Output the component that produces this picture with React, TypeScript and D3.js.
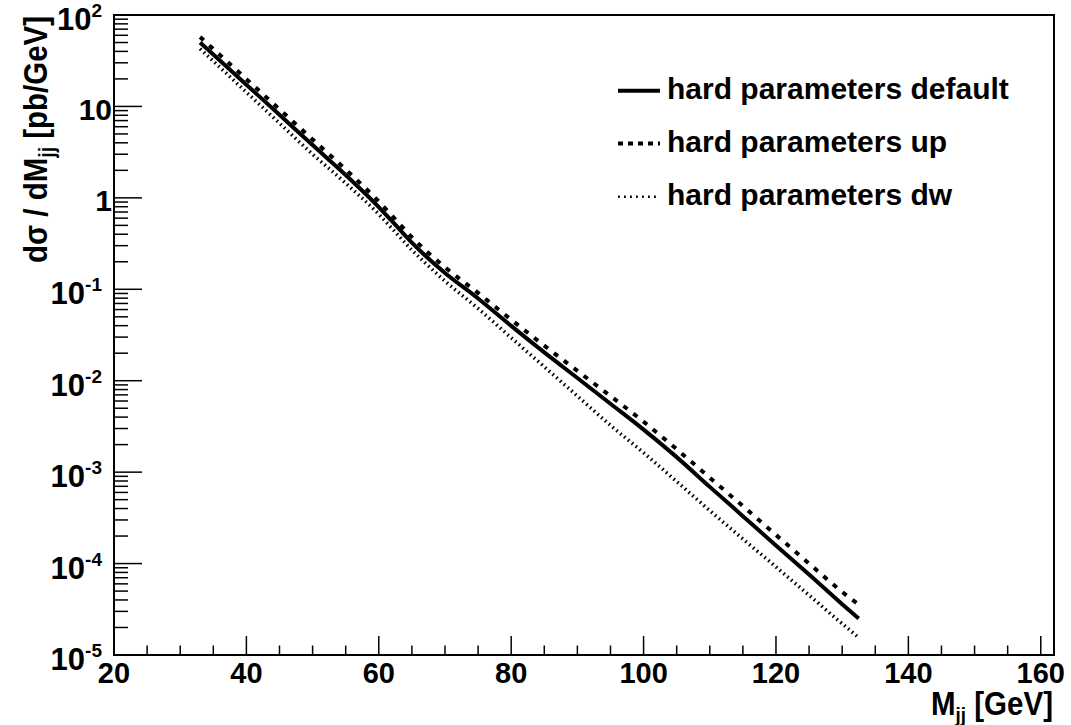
import React from 'react';
import * as d3 from 'd3';

// M_jj [GeV] sample points
const mjj = [33, 35, 40, 45, 50, 55, 60, 62, 65, 67, 70, 75, 80, 85, 90, 95, 100, 105, 110, 115, 120, 125, 130, 132.5];

// dsigma/dMjj [pb/GeV]
const sigmaDefault = [50.1, 37.0, 17.3, 8.1, 3.78, 1.78, 0.794, 0.556, 0.324, 0.234, 0.151, 0.0794, 0.0398, 0.0204, 0.0107, 0.0056, 0.00292, 0.00146, 6.9e-4, 3.3e-4, 1.58e-4, 7.6e-5, 3.6e-5, 2.5e-5];
const sigmaUp = [57.5, 42.5, 19.9, 9.3, 4.35, 2.04, 0.912, 0.638, 0.372, 0.269, 0.174, 0.0912, 0.0465, 0.0242, 0.0128, 0.0068, 0.00356, 0.00178, 8.7e-4, 4.25e-4, 2.06e-4, 1.0e-4, 4.9e-5, 3.55e-5];
const sigmaDw = [42.7, 31.3, 14.3, 6.55, 3.0, 1.445, 0.661, 0.462, 0.269, 0.195, 0.123, 0.0617, 0.0295, 0.0142, 0.0068, 0.00325, 0.00163, 7.9e-4, 3.8e-4, 1.86e-4, 9.2e-5, 4.5e-5, 2.2e-5, 1.55e-5];

const seriesNames = ['hard parameters default', 'hard parameters up', 'hard parameters dw'];

const xTickLabels = [20, 40, 60, 80, 100, 120, 140, 160];
const yExponents = [-5, -4, -3, -2, -1, 0, 1, 2];

const W = 1071;
const H = 725;
const FONT = '"Liberation Sans", Arial, Helvetica, sans-serif';

const frame = { left: 114, right: 1054, top: 15, bottom: 655 };

const styles = [
  { width: 4, dash: null },
  { width: 4, dash: '5 7.5' },
  { width: 3.6, dash: '1.6 3.4' },
];

export default function App() {
  const x = d3.scaleLinear().domain([20, 162]).range([frame.left, frame.right]);
  const y = d3.scaleLog().domain([1e-5, 100]).range([frame.bottom, frame.top]);

  const line = d3
    .line<[number, number]>()
    .x(d => x(d[0]))
    .y(d => y(d[1]))
    .curve(d3.curveMonotoneX);

  const allSeries = [sigmaDefault, sigmaUp, sigmaDw];

  // minor ticks
  const xMinor = d3.range(20, 161, 5);
  const yTicks = y.ticks();

  const legendY = [90.7, 143.5, 196.7];

  return (
    <svg width={W} height={H} style={{ position: 'absolute', left: 0, top: 0, background: '#fff' }}
      fontFamily={FONT} fontWeight="bold">
      <rect x={0} y={0} width={W} height={H} fill="#fff" />

      {/* curves */}
      {allSeries.map((s, i) => (
        <path
          key={i}
          d={line(mjj.map((m, j) => [m, s[j]]) as [number, number][]) || ''}
          fill="none"
          stroke="#000"
          strokeWidth={styles[i].width}
          strokeDasharray={styles[i].dash || undefined}
        />
      ))}

      {/* x ticks */}
      {xMinor.map(v => {
        const major = v % 20 === 0;
        return (
          <line key={'xt' + v} x1={x(v)} x2={x(v)} y1={frame.bottom} y2={frame.bottom - (major ? 19 : 9.5)}
            stroke="#000" strokeWidth={1.5} />
        );
      })}
      {/* y ticks */}
      {yTicks.map((v, i) => {
        const lg = Math.log10(v);
        const major = Math.abs(lg - Math.round(lg)) < 1e-9;
        return (
          <line key={'yt' + i} x1={frame.left} x2={frame.left + (major ? 28 : 14)} y1={y(v)} y2={y(v)}
            stroke="#000" strokeWidth={1.5} />
        );
      })}

      {/* frame */}
      <rect x={frame.left} y={frame.top} width={frame.right - frame.left} height={frame.bottom - frame.top}
        fill="none" stroke="#000" strokeWidth={2} />

      {/* x labels */}
      {xTickLabels.map(v => (
        <text key={'xl' + v} x={x(v)} y={683} fontSize={29} textAnchor="middle">{v}</text>
      ))}

      {/* y labels */}
      {yExponents.map(e => {
        const ty = y(Math.pow(10, e));
        if (e === 0 || e === 1) {
          return (
            <text key={'yl' + e} x={112} y={ty + 13.5} fontSize={30} textAnchor="end">{e === 0 ? '1' : '10'}</text>
          );
        }
        return (
          <text key={'yl' + e} x={102} y={ty + 15} fontSize={31} textAnchor="end">
            10<tspan fontSize={19} dy={-13}>{String(e)}</tspan>
          </text>
        );
      })}

      {/* axis titles */}
      <text x={1053} y={715} fontSize={33} textAnchor="end" textLength={122} lengthAdjust="spacingAndGlyphs">
        M<tspan fontSize={21} dy={7}>jj</tspan><tspan dy={-7}> [GeV]</tspan>
      </text>
      <text transform={`translate(47,16) rotate(-90)`} fontSize={33} textAnchor="end"
        textLength={247} lengthAdjust="spacingAndGlyphs">
        dσ / dM<tspan fontSize={22} dy={7}>jj</tspan><tspan dy={-7}> [pb/GeV]</tspan>
      </text>

      {/* legend */}
      {seriesNames.map((name, i) => (
        <g key={'lg' + i}>
          <line x1={618} x2={660} y1={legendY[i]} y2={legendY[i]} stroke="#000"
            strokeWidth={i === 2 ? 2.6 : styles[i].width}
            strokeDasharray={i === 1 ? '5 5' : i === 2 ? '1.8 4.2' : undefined} />
          <text x={667} y={legendY[i] + 8.6} fontSize={30}>{name}</text>
        </g>
      ))}
    </svg>
  );
}
